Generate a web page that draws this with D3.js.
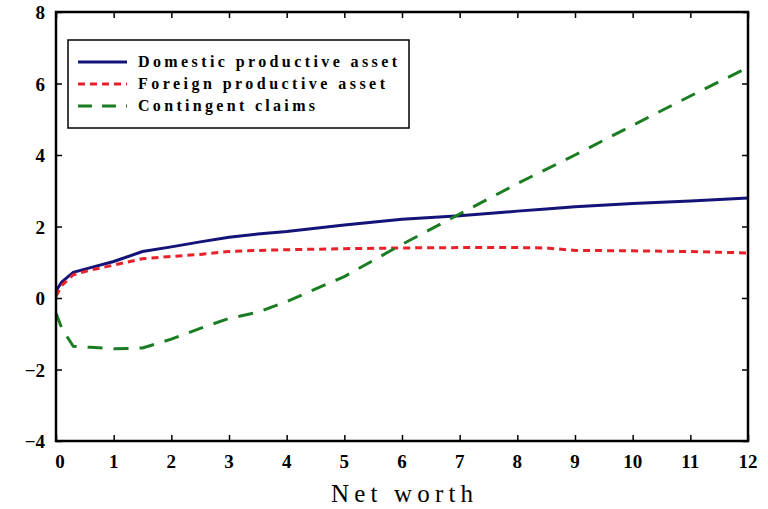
<!DOCTYPE html>
<html>
<head>
<meta charset="utf-8">
<script src="https://cdn.jsdelivr.net/npm/d3@7"></script>
<style>
  html, body { margin: 0; padding: 0; background: #fff; }
  svg { display: block; }
</style>
</head>
<body>
<svg id="chart" width="768" height="509"></svg>
<script>
// Net worth grid points and the three portfolio positions
const netWorth    = [0, 0.1, 0.3, 0.6, 1, 1.5, 2, 2.5, 3, 3.5, 4, 5, 6, 7, 8, 8.5, 9, 10, 11, 12];
const domestic    = [0.2, 0.45, 0.72, 0.85, 1.02, 1.3, 1.43, 1.57, 1.7, 1.79, 1.86, 2.04, 2.2, 2.3, 2.43, 2.49, 2.55, 2.64, 2.71, 2.8];
const foreign     = [0.05, 0.35, 0.65, 0.78, 0.92, 1.1, 1.16, 1.22, 1.3, 1.33, 1.35, 1.38, 1.4, 1.41, 1.41, 1.4, 1.33, 1.32, 1.3, 1.26];
const contingent  = [-0.42, -0.85, -1.35, -1.38, -1.42, -1.4, -1.15, -0.85, -0.57, -0.4, -0.1, 0.6, 1.5, 2.35, 3.2, 3.6, 4.0, 4.83, 5.65, 6.45];

const xTicks = [0, 1, 2, 3, 4, 5, 6, 7, 8, 9, 10, 11, 12];
const yTicks = [-4, -2, 0, 2, 4, 6, 8];

const seriesNames  = ["Domestic productive asset", "Foreign productive asset", "Contingent claims"];
const legendWidths = [259, 247, 177];
const seriesColors = ["#141478", "#e8202a", "#1b7d22"];
const seriesDash   = [null, "7,5", "15,11"];
const seriesValues = [domestic, foreign, contingent];

const svg = d3.select("#chart");
const plot = { left: 56, right: 748, top: 12, bottom: 441 };

const x = d3.scaleLinear().domain([0, 12]).range([plot.left, plot.right]);
const y = d3.scaleLinear().domain([-4, 8]).range([plot.bottom, plot.top]);

const serif = "'Liberation Serif', 'DejaVu Serif', serif";

// Curves
const line = d3.line().x(d => x(d[0])).y(d => y(d[1]));
seriesValues.forEach((vals, i) => {
  svg.append("path")
    .datum(netWorth.map((n, j) => [n, vals[j]]))
    .attr("d", line)
    .attr("fill", "none")
    .attr("stroke", seriesColors[i])
    .attr("stroke-width", 3)
    .attr("stroke-dasharray", seriesDash[i]);
});

// Inward ticks on all four sides
const tickLen = 6;
const bottomAxis = d3.axisBottom(x).tickValues(xTicks).tickSizeInner(-tickLen).tickSizeOuter(0).tickFormat("");
const topAxis = d3.axisTop(x).tickValues(xTicks).tickSizeInner(-tickLen).tickSizeOuter(0).tickFormat("");
const leftAxis = d3.axisLeft(y).tickValues(yTicks).tickSizeInner(-tickLen).tickSizeOuter(0).tickFormat("");
const rightAxis = d3.axisRight(y).tickValues(yTicks).tickSizeInner(-tickLen).tickSizeOuter(0).tickFormat("");

[[bottomAxis, `translate(0,${plot.bottom})`], [topAxis, `translate(0,${plot.top})`],
 [leftAxis, `translate(${plot.left},0)`], [rightAxis, `translate(${plot.right},0)`]].forEach(([ax, tr]) => {
  const g = svg.append("g").attr("transform", tr).call(ax);
  g.select(".domain").remove();
  g.selectAll("line").attr("stroke", "#000").attr("stroke-width", 1.5);
});

// Frame
svg.append("rect")
  .attr("x", plot.left).attr("y", plot.top)
  .attr("width", plot.right - plot.left).attr("height", plot.bottom - plot.top)
  .attr("fill", "none").attr("stroke", "#000").attr("stroke-width", 2.5);

// Tick labels
svg.append("g").selectAll("text").data(xTicks).join("text")
  .attr("x", d => x(d) + (d === 0 ? 4 : 0))
  .attr("y", plot.bottom + 27)
  .attr("text-anchor", "middle")
  .attr("font-family", serif).attr("font-weight", "bold").attr("font-size", 19)
  .text(d => d);

svg.append("g").selectAll("text").data(yTicks).join("text")
  .attr("x", plot.left - 11)
  .attr("y", d => y(d) + 7)
  .attr("text-anchor", "end")
  .attr("font-family", serif).attr("font-weight", "bold").attr("font-size", 19)
  .text(d => d < 0 ? "\u2212" + Math.abs(d) : d);

// Axis title
svg.append("text")
  .attr("x", 331)
  .attr("y", 502)
  .attr("font-family", serif).attr("font-size", 25)
  .attr("textLength", 142).attr("lengthAdjust", "spacing")
  .text("Net worth");

// Legend
const legend = svg.append("g");
legend.append("rect")
  .attr("x", 68).attr("y", 40).attr("width", 341).attr("height", 88)
  .attr("fill", "#fff").attr("stroke", "#000").attr("stroke-width", 1.5);
seriesNames.forEach((name, i) => {
  const ly = 62 + i * 22;
  legend.append("line")
    .attr("x1", 78).attr("x2", 127).attr("y1", ly).attr("y2", ly)
    .attr("stroke", seriesColors[i]).attr("stroke-width", 3)
    .attr("stroke-dasharray", i === 1 ? "7,5" : i === 2 ? "14,10" : null);
  legend.append("text")
    .attr("x", 138).attr("y", ly + 5)
    .attr("font-family", serif).attr("font-weight", "bold").attr("font-size", 16)
    .attr("textLength", legendWidths[i]).attr("lengthAdjust", "spacing")
    .text(name);
});
</script>
</body>
</html>
